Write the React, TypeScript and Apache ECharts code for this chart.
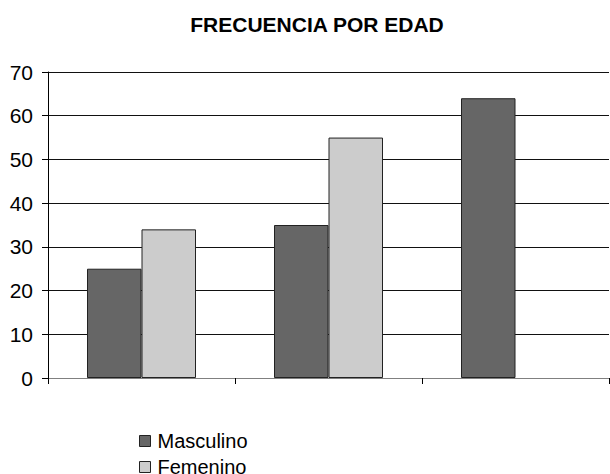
import React, { useEffect, useRef } from "react";
import * as echarts from "echarts";

const categories = ["A", "B", "C"];
const masculino = [25, 35, 64];
const femenino: (number | null)[] = [34, 55, null];
const yTicks = [0, 10, 20, 30, 40, 50, 60, 70];

export default function App() {
  const ref = useRef<HTMLDivElement>(null);
  useEffect(() => {
    const chart = echarts.init(ref.current!, null, { renderer: "svg" });
    const font = "'Liberation Sans', Arial, sans-serif";
    chart.setOption({
      animation: false,
      backgroundColor: "#ffffff",
      title: {
        text: "FRECUENCIA POR EDAD",
        left: 312,
        top: 9,
        textAlign: "center",
        textStyle: { fontFamily: font, fontSize: 21, fontWeight: "bold", color: "#000" },
      },
      legend: {
        orient: "vertical",
        left: 139,
        top: 431,
        height: 80,
        padding: 0,
        itemWidth: 11,
        itemHeight: 11,
        itemGap: 6,
        icon: "rect",
        itemStyle: { borderColor: "#222", borderWidth: 1 },
        textStyle: { fontFamily: font, fontSize: 20, color: "#000", lineHeight: 20, padding: [0, 0, 0, 2] },
        data: ["Masculino", "Femenino"],
      },
      grid: { left: 48, right: 1, top: 72, bottom: 96, containLabel: false },
      xAxis: {
        type: "category",
        data: categories,
        axisLine: { show: true, lineStyle: { color: "#808080", width: 1 } },
        axisTick: { show: true, interval: 0, length: 6, lineStyle: { color: "#000" } },
        axisLabel: { show: false },
        splitLine: { show: false },
      },
      yAxis: {
        type: "value",
        min: yTicks[0],
        max: yTicks[yTicks.length - 1],
        interval: 10,
        axisLine: { show: true, lineStyle: { color: "#000", width: 1 } },
        axisTick: { show: true, length: 6, lineStyle: { color: "#000" } },
        axisLabel: { margin: 15, fontFamily: font, fontSize: 21, color: "#000" },
        splitLine: { show: true, lineStyle: { color: "#111", width: 1 } },
      },
      series: [
        {
          name: "Masculino",
          type: "bar",
          data: masculino,
          barWidth: 54.5,
          barGap: "0%",
          itemStyle: { color: "#666666", borderColor: "#222", borderWidth: 1 },
        },
        {
          name: "Femenino",
          type: "bar",
          data: femenino,
          barWidth: 54.5,
          barGap: "0%",
          itemStyle: { color: "#cccccc", borderColor: "#222", borderWidth: 1 },
        },
      ],
    });
    return () => chart.dispose();
  }, []);
  return (
    <div
      ref={ref}
      style={{ position: "fixed", left: 0, top: 0, width: 610, height: 474 }}
    />
  );
}
